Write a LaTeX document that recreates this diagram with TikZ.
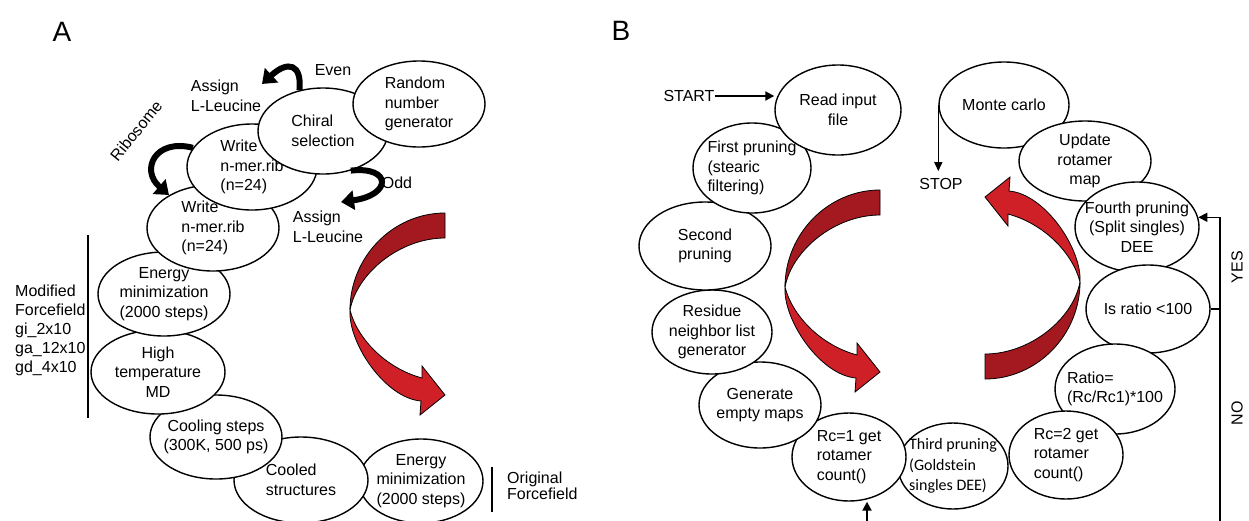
\documentclass[tikz,border=0pt]{standalone}
\usepackage{fontspec}
\setmainfont{Liberation Sans}
\newfontfamily\thirdfont{Carlito}
\usetikzlibrary{arrows.meta,shapes.geometric}
\definecolor{swirldark}{HTML}{A3191F}
\definecolor{swirllight}{HTML}{CF2028}
\newcommand{\bodyfont}{\fontsize{16}{19.5}\selectfont}
\tikzset{
  stepnode/.style={draw, ellipse, fill=white, line width=1.4pt, inner sep=-12pt, align=center, font=\bodyfont},
  leftnode/.style={stepnode, align=left},
  esize/.style 2 args={minimum width=#1pt, minimum height=#2pt},
  textlabel/.style={inner sep=0pt, align=left, font=\bodyfont},
  panel/.style={inner sep=0pt, font=\fontsize{28}{30}\selectfont},
  fatarrow/.style={line width=6pt, -{Triangle[length=13pt,width=19pt]}},
  arrow/.style={line width=2pt, -{Triangle[length=9pt,width=9pt]}},
  thinarrow/.style={line width=1.5pt, -{Triangle[length=9pt,width=8pt]}},
  loopline/.style={line width=1.3pt},
  bracket/.style={line width=1.3pt},
  swirl/.pic={
    \filldraw[fill=swirldark, draw=black, line width=0.8pt]
      (0,0) .. controls (-52,0) and (-95,44) .. (-95,97)
      .. controls (-88,60) and (-45,25) .. (0,25) -- cycle;
    \filldraw[fill=swirllight, draw=black, line width=0.8pt]
      (-95,97) .. controls (-88,125) and (-60,155) .. (-23,165)
      -- (-23,153) -- (0,182) -- (-25,202) -- (-24,188)
      .. controls (-60,185) and (-97,130) .. (-95,97) -- cycle;
  }
}

\begin{document}
\begin{tikzpicture}[x=1pt, y=-1pt]
  \useasboundingbox (0,0) rectangle (1249,520);
  \node[panel] (lblA) at (62,32) {A};
  \node[panel] (lblB) at (621,31) {B};

  % panel A
  \node[stepnode, esize={124}{84}] (emin2) at (421,481) {Energy\\minimization\\(2000 steps)};
  \node[leftnode, esize={134}{86}] (cooled) at (301,480) {Cooled\\structures};
  \node[stepnode, esize={132}{84}] (cool) at (216,437) {Cooling steps\\(300K, 500 ps)};
  \node[stepnode, esize={134}{84}] (htmd) at (158,372) {High\\temperature\\MD};
  \node[stepnode, esize={132}{84}] (emin1) at (164,294) {Energy\\minimization\\(2000 steps)};
  \node[leftnode, esize={132}{86}] (write2) at (213,228) {Write\\n-mer.rib\\(n=24)};
  \node[leftnode, esize={130}{86}] (write1) at (252,167) {Write\\n-mer.rib\\(n=24)};
  \node[leftnode, esize={130}{86}] (chiral) at (323,131) {Chiral\\selection};
  \node[leftnode, esize={132}{86}] (rng) at (419,104) {Random\\number\\generator};

  \node[textlabel] (assign1) at (226,96) {Assign\\L-Leucine};
  \node[textlabel] (even) at (333,70) {Even};
  \node[textlabel, rotate=51] (ribo) at (136,131) {Ribosome};
  \node[textlabel] (odd) at (397,183) {Odd};
  \node[textlabel] (assign2) at (328,227) {Assign\\L-Leucine};
  \node[textlabel, anchor=west, font=\fontsize{16}{19}\selectfont] (modff) at (15,330) {Modified\\Forcefield\\gi\_2x10\\ga\_12x10\\gd\_4x10};
  \node[textlabel, anchor=west, font=\fontsize{16}{15.5}\selectfont] (origff) at (507,486) {Original\\Forcefield};
  \draw[bracket] (88,235) -- (88,418);
  \draw[bracket] (492,467) -- (492,512);

  \coordinate (eventip) at (262,84);
  \coordinate (ribotip) at (169,195);
  \coordinate (oddtip) at (341,202);
  \draw[fatarrow] (chiral.120) .. controls (302,64) and (288,60) .. (eventip);
  \draw[fatarrow] (write1.162) .. controls (155,138) and (140,170) .. (ribotip);
  \draw[fatarrow] (chiral.305) .. controls (392,166) and (392,195) .. (oddtip);

  \pic at (445,213) {swirl};

  % panel B
  \node[stepnode, esize={130}{86}] (monte) at (1004,105) {Monte carlo};
  \node[stepnode, esize={132}{80}] (update) at (1085,161) {Update\\rotamer\\map};
  \node[stepnode, esize={124}{90}] (prune4) at (1137,227) {Fourth pruning\\(Split singles)\\DEE};
  \node[stepnode, esize={124}{88}] (isratio) at (1148,309) {Is ratio <100};
  \node[leftnode, esize={120}{90}] (ratio) at (1115,389) {Ratio=\\(Rc/Rc1)*100};
  \node[leftnode, esize={114}{88}] (rc2) at (1066,455) {Rc=2 get\\rotamer\\count()};
  \node[leftnode, esize={110}{86}, font=\thirdfont\fontsize{16}{20.5}\selectfont] (prune3) at (953,466) {Third pruning\\(Goldstein\\singles DEE)};
  \node[leftnode, esize={114}{88}] (rc1) at (849,457) {Rc=1 get\\rotamer\\count()};
  \node[stepnode, esize={122}{86}] (empty) at (760,405) {Generate\\empty maps};
  \node[stepnode, esize={120}{84}] (resid) at (712,332) {Residue\\neighbor list\\generator};
  \node[stepnode, esize={132}{88}] (prune2) at (705,246) {Second\\pruning};
  \node[leftnode, esize={118}{90}] (prune1) at (752,168) {First pruning\\(stearic\\filtering)};
  \node[stepnode, esize={126}{90}] (read) at (838,110) {Read input\\file};

  \node[textlabel] (start) at (689,96) {START};
  \node[textlabel] (stop) at (941,184) {STOP};
  \node[textlabel, rotate=90] (yes) at (1237,267) {YES};
  \node[textlabel, rotate=90] (no) at (1237,413) {NO};
  \coordinate (noend) at (1220,521);
  \coordinate (rcin) at (867,521);

  \draw[arrow] (start.east) -- (start.east -| read.west);
  \draw[thinarrow, shorten >=7pt] (monte.west) -- (monte.west |- stop.north);
  \draw[loopline, -{Triangle[length=9pt,width=9pt]}] (noend) |- (prune4.9);
  \draw[loopline] (isratio) -- (isratio -| noend);
  \draw[arrow] (rcin) -- (rcin |- rc1.south);

  \pic at (880,190) {swirl};
  \pic[rotate=180] at (985,379) {swirl};
\end{tikzpicture}
\end{document}
